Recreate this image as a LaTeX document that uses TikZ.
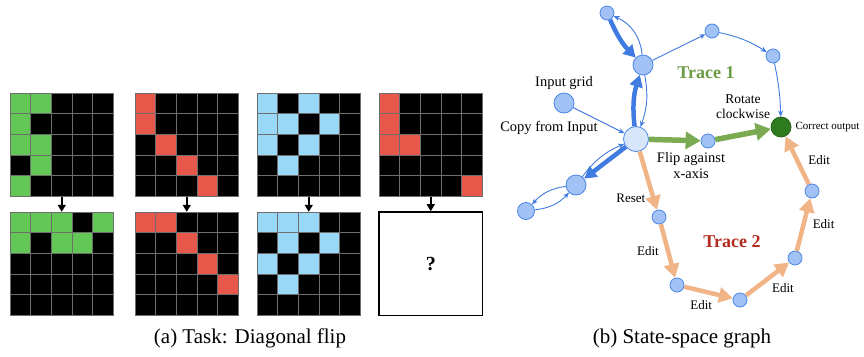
\documentclass[tikz,border=0pt]{standalone}
\usepackage{fontspec}
\setmainfont{Liberation Serif}
\usetikzlibrary{arrows.meta,positioning}

\definecolor{cellgreen}{HTML}{63C756}
\definecolor{cellred}{HTML}{E8584A}
\definecolor{cellblue}{HTML}{99D9F7}
\definecolor{gridgray}{HTML}{6E6E6E}
\definecolor{statefill}{HTML}{A2C2F5}
\definecolor{startfill}{HTML}{D8E6FB}
\definecolor{stateborder}{HTML}{4A86E8}
\definecolor{edgeblue}{HTML}{3F7BE0}
\definecolor{edgegreen}{HTML}{7AAB52}
\definecolor{edgeorange}{HTML}{F0B487}
\definecolor{goalgreen}{HTML}{2E7A1F}
\definecolor{traceone}{HTML}{6B9B45}
\definecolor{tracetwo}{HTML}{B32A1E}

\begin{document}
\begin{tikzpicture}[x=1pt,y=-1pt,
    gridnode/.style={minimum size=103.5pt, inner sep=0pt},
    gridarrow/.style={line width=1.6pt, -{Triangle[length=7pt,width=8pt]}},
    state/.style={circle, draw=stateborder, fill=statefill, line width=0.8pt,
      inner sep=0pt, minimum size=14pt},
    bigstate/.style={state, minimum size=20pt},
    blueedge/.style={draw=edgeblue, line width=0.9pt, -{Stealth[length=6pt,width=5pt]}},
    thickblue/.style={draw=edgeblue, line width=4.5pt, -{Triangle[length=12pt,width=13pt]}},
    greenedge/.style={draw=edgegreen, line width=5.5pt, -{Triangle[length=15pt,width=17pt]}},
    orangeedge/.style={draw=edgeorange, line width=4.5pt, -{Triangle[length=14pt,width=15pt]}},
    lbl/.style={font=\fontsize{14.5}{16}\selectfont, align=center, inner sep=1pt},
    elbl/.style={font=\fontsize{13}{14}\selectfont, inner sep=1pt},
    caption/.style={font=\fontsize{21}{24}\selectfont}]
  \useasboundingbox[fill=white] (0,0) rectangle (864,356);

  % (a) grids: name/x/y/colour/cells (col/row)
  \foreach \nm/\gx/\gy/\gc/\cells in {
      g1t/10/93/cellgreen/{1/1,2/1,1/2,1/3,2/3,2/4,1/5},
      g1b/10/212/cellgreen/{1/1,2/1,3/1,5/1,1/2,3/2,4/2},
      g2t/135/93/cellred/{1/1,1/2,2/3,3/4,4/5},
      g2b/135/212/cellred/{1/1,2/1,3/2,4/3,5/4},
      g3t/257/93/cellblue/{1/1,3/1,1/2,2/2,4/2,1/3,3/3,2/4},
      g3b/257/212/cellblue/{1/1,2/1,3/1,2/2,4/2,1/3,3/3,2/4},
      g4t/379/93/cellred/{1/1,1/2,1/3,2/3,5/5}}
    {
      \begin{scope}[shift={(\gx,\gy)}]
        \fill[black] (0,0) rectangle (103.5,103.5);
        \foreach \i/\j in \cells
          \fill[\gc] ({(\i-1)*20.7},{(\j-1)*20.7}) rectangle ++(20.7,20.7);
        \foreach \k in {0,...,5}
          {
          \draw[gridgray, line width=0.7pt] ({\k*20.7},0) -- ({\k*20.7},103.5);
          \draw[gridgray, line width=0.7pt] (0,{\k*20.7}) -- (103.5,{\k*20.7});
          }
        \node[gridnode] (\nm) at (51.75,51.75) {};
      \end{scope}
    }
  % unknown output
  \node[gridnode, draw=black, line width=1.6pt, fill=white,
    font=\fontsize{20}{22}\selectfont\bfseries] (g4b) at (430.75,263.75) {?};
  \foreach \g in {1,...,4}
    \draw[gridarrow] (g\g t.south) -- (g\g b.north);
  \node[caption] (capa) at (250,338) {(a) Task: Diagonal flip};

  % (b) state-space graph
  \node[state] (top) at (607,13) {};
  \node[bigstate] (hub) at (643,65) {};
  \node[bigstate] (input) at (564,103) {};
  \node[state, fill=startfill, minimum size=25pt] (start) at (636,139) {};
  \node[bigstate] (lefta) at (576,185) {};
  \node[state, minimum size=17pt] (leftb) at (526,211) {};
  \node[state] (upa) at (712,31) {};
  \node[state] (upb) at (773,56) {};
  \node[state] (flip) at (708,141) {};
  \node[state, fill=goalgreen, draw=goalgreen!80!black, minimum size=20pt] (goal) at (781,127) {};
  \node[state] (reset) at (659,217) {};
  \node[state] (edita) at (677,285) {};
  \node[state] (editb) at (740,300) {};
  \node[state] (editc) at (795,258) {};
  \node[state] (editd) at (812,191) {};

  % labels
  \node[lbl, above=2pt of input] (linput) {Input grid};
  \node[lbl] (lcopy) at (549,128) {Copy from Input};
  \node[lbl] (lflip) at (691,166) {Flip against\\x-axis};
  \node[lbl, font=\fontsize{13.5}{15}\selectfont] (lrot) at (743,107) {Rotate\\clockwise};
  \node[lbl, font=\fontsize{11}{12}\selectfont, right=3pt of goal] (lgoal) {Correct output};
  \node[font=\fontsize{18}{20}\selectfont\bfseries, text=traceone] (tone) at (706,73) {Trace 1};
  \node[font=\fontsize{18}{20}\selectfont\bfseries, text=tracetwo] (ttwo) at (732,242) {Trace 2};

  % blue edges
  \draw[thickblue] (top) to[bend right=10] (hub);
  \draw[blueedge] (hub) to[bend right=30] (top);
  \draw[thickblue] (start) to[bend left=12] (hub);
  \draw[blueedge] (hub) to[bend left=15] (start);
  \draw[blueedge] (hub) -- (upa);
  \draw[blueedge] (upa) to[bend left=10] (upb);
  \draw[blueedge] (upb) to[bend left=5] (goal);
  \draw[blueedge] (input) -- (start);
  \draw[thickblue] (start) -- (lefta);
  \draw[blueedge] (lefta) to[bend left=15] (start);
  \draw[blueedge] (lefta) to[bend right=20] (leftb);
  \draw[blueedge] (leftb) to[bend right=20] (lefta);

  % trace 1
  \draw[greenedge] (start) -- (flip);
  \draw[greenedge] (flip) -- (goal);

  % trace 2
  \draw[orangeedge] (start) -- (reset) node[elbl, pos=0.8, left=5pt] (lreset) {Reset};
  \draw[orangeedge] (reset) -- (edita) node[elbl, midway, left=6pt] (le1) {Edit};
  \draw[orangeedge] (edita) -- (editb) node[elbl, pos=0.35, below=6pt] (le2) {Edit};
  \draw[orangeedge] (editb) -- (editc) node[elbl, midway, below right=2pt] (le3) {Edit};
  \draw[orangeedge] (editc) -- (editd) node[elbl, midway, right=6pt] (le4) {Edit};
  \draw[orangeedge] (editd) -- (goal) node[elbl, midway, right=8pt] (le5) {Edit};

  \node[caption] (capb) at (682,338) {(b) State-space graph};
\end{tikzpicture}
\end{document}
